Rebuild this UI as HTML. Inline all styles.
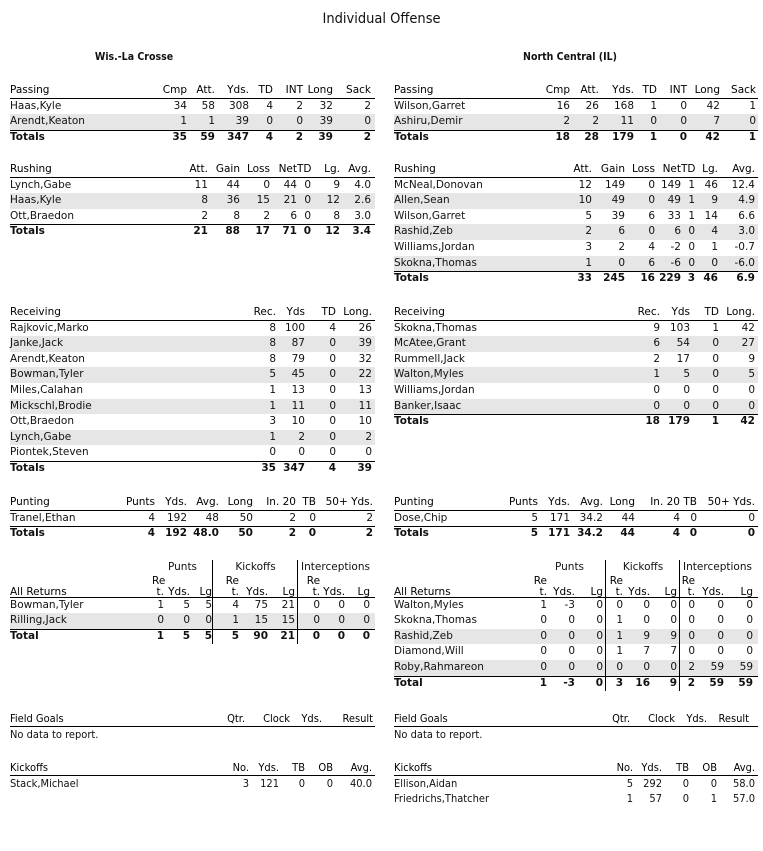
<!DOCTYPE html>
<html><head><meta charset="utf-8"><style>
body{margin:0;width:763px;height:851px;background:#fff;position:relative;overflow:hidden;color:#111;font-family:"DejaVu Sans",Verdana,sans-serif;font-size:10.5px}
.ti{position:absolute;top:11px;left:0;width:763px;text-align:center;font:14.5px "DejaVu Sans Condensed","DejaVu Sans",sans-serif}
.tm{position:absolute;top:51px;font:bold 10.5px "DejaVu Sans Condensed","DejaVu Sans",sans-serif;width:300px;text-align:center}
table{position:absolute;border-collapse:collapse;table-layout:fixed;font-size:10.5px}
td{padding:0;height:15.6px;line-height:15.6px;text-align:right;white-space:nowrap;overflow:visible;background-repeat:no-repeat}
td:first-child{text-align:left}
.h td{color:#000;background-image:linear-gradient(#000,#000);background-position:left bottom;background-size:100% 1px}
.tot td{font-weight:bold;background-image:linear-gradient(#000,#000);background-position:left top;background-size:100% 1px}
.g td{background-color:#e6e6e6}
td.d{background-image:linear-gradient(#000,#000);background-position:right top;background-size:1px 100%}
.h td.d{background-image:linear-gradient(#000,#000),linear-gradient(#000,#000);background-position:left bottom,right top;background-size:100% 1px,1px 100%}
.tot td.d{background-image:linear-gradient(#000,#000),linear-gradient(#000,#000);background-position:left top,right top;background-size:100% 1px,1px 100%}
.rt td{vertical-align:bottom;line-height:11px;height:22px}
table.c{font-family:"DejaVu Sans Condensed","DejaVu Sans",sans-serif;font-size:11px}
td.L{padding-right:1px}
td.R{padding-right:3px}
</style></head><body>
<div class="ti">Individual Offense</div>
<div class="tm" style="left:-16px">Wis.-La Crosse</div>
<div class="tm" style="left:420px">North Central (IL)</div>

<table style="left:10px;top:83px;width:365px"><colgroup><col style="width:147px"><col style="width:30px"><col style="width:28px"><col style="width:34px"><col style="width:24px"><col style="width:30px"><col style="width:30px"><col style="width:38px"><col style="width:4px"></colgroup>
<tr class="h"><td>Passing</td><td>Cmp</td><td>Att.</td><td>Yds.</td><td>TD</td><td>INT</td><td>Long</td><td>Sack</td><td></td></tr>
<tr><td>Haas,Kyle</td><td>34</td><td>58</td><td>308</td><td>4</td><td>2</td><td>32</td><td>2</td><td></td></tr>
<tr class="g"><td>Arendt,Keaton</td><td>1</td><td>1</td><td>39</td><td>0</td><td>0</td><td>39</td><td>0</td><td></td></tr>
<tr class="tot"><td>Totals</td><td>35</td><td>59</td><td>347</td><td>4</td><td>2</td><td>39</td><td>2</td><td></td></tr>
</table>

<table style="left:394px;top:83px;width:364px"><colgroup><col style="width:146px"><col style="width:30px"><col style="width:29px"><col style="width:35px"><col style="width:23px"><col style="width:30px"><col style="width:33px"><col style="width:36px"><col style="width:2px"></colgroup>
<tr class="h"><td>Passing</td><td>Cmp</td><td>Att.</td><td>Yds.</td><td>TD</td><td>INT</td><td>Long</td><td>Sack</td><td></td></tr>
<tr><td>Wilson,Garret</td><td>16</td><td>26</td><td>168</td><td>1</td><td>0</td><td>42</td><td>1</td><td></td></tr>
<tr class="g"><td>Ashiru,Demir</td><td>2</td><td>2</td><td>11</td><td>0</td><td>0</td><td>7</td><td>0</td><td></td></tr>
<tr class="tot"><td>Totals</td><td>18</td><td>28</td><td>179</td><td>1</td><td>0</td><td>42</td><td>1</td><td></td></tr>
</table>

<table style="left:10px;top:162px;width:365px"><colgroup><col style="width:173px"><col style="width:25px"><col style="width:32px"><col style="width:30px"><col style="width:27px"><col style="width:14px"><col style="width:29px"><col style="width:31px"><col style="width:4px"></colgroup>
<tr class="h"><td>Rushing</td><td>Att.</td><td>Gain</td><td>Loss</td><td>Net</td><td>TD</td><td>Lg.</td><td>Avg.</td><td></td></tr>
<tr><td>Lynch,Gabe</td><td>11</td><td>44</td><td>0</td><td>44</td><td>0</td><td>9</td><td>4.0</td><td></td></tr>
<tr class="g"><td>Haas,Kyle</td><td>8</td><td>36</td><td>15</td><td>21</td><td>0</td><td>12</td><td>2.6</td><td></td></tr>
<tr><td>Ott,Braedon</td><td>2</td><td>8</td><td>2</td><td>6</td><td>0</td><td>8</td><td>3.0</td><td></td></tr>
<tr class="tot"><td>Totals</td><td>21</td><td>88</td><td>17</td><td>71</td><td>0</td><td>12</td><td>3.4</td><td></td></tr>
</table>

<table style="left:394px;top:162px;width:364px"><colgroup><col style="width:173px"><col style="width:25px"><col style="width:33px"><col style="width:30px"><col style="width:26px"><col style="width:14px"><col style="width:23px"><col style="width:37px"><col style="width:3px"></colgroup>
<tr class="h"><td>Rushing</td><td>Att.</td><td>Gain</td><td>Loss</td><td>Net</td><td>TD</td><td>Lg.</td><td>Avg.</td><td></td></tr>
<tr><td>McNeal,Donovan</td><td>12</td><td>149</td><td>0</td><td>149</td><td>1</td><td>46</td><td>12.4</td><td></td></tr>
<tr class="g"><td>Allen,Sean</td><td>10</td><td>49</td><td>0</td><td>49</td><td>1</td><td>9</td><td>4.9</td><td></td></tr>
<tr><td>Wilson,Garret</td><td>5</td><td>39</td><td>6</td><td>33</td><td>1</td><td>14</td><td>6.6</td><td></td></tr>
<tr class="g"><td>Rashid,Zeb</td><td>2</td><td>6</td><td>0</td><td>6</td><td>0</td><td>4</td><td>3.0</td><td></td></tr>
<tr><td>Williams,Jordan</td><td>3</td><td>2</td><td>4</td><td>-2</td><td>0</td><td>1</td><td>-0.7</td><td></td></tr>
<tr class="g"><td>Skokna,Thomas</td><td>1</td><td>0</td><td>6</td><td>-6</td><td>0</td><td>0</td><td>-6.0</td><td></td></tr>
<tr class="tot"><td>Totals</td><td>33</td><td>245</td><td>16</td><td>229</td><td>3</td><td>46</td><td>6.9</td><td></td></tr>
</table>

<table style="left:10px;top:305px;width:365px"><colgroup><col style="width:236px"><col style="width:30px"><col style="width:29px"><col style="width:31px"><col style="width:36px"><col style="width:3px"></colgroup>
<tr class="h"><td>Receiving</td><td>Rec.</td><td>Yds</td><td>TD</td><td>Long.</td><td></td></tr>
<tr><td>Rajkovic,Marko</td><td>8</td><td>100</td><td>4</td><td>26</td><td></td></tr>
<tr class="g"><td>Janke,Jack</td><td>8</td><td>87</td><td>0</td><td>39</td><td></td></tr>
<tr><td>Arendt,Keaton</td><td>8</td><td>79</td><td>0</td><td>32</td><td></td></tr>
<tr class="g"><td>Bowman,Tyler</td><td>5</td><td>45</td><td>0</td><td>22</td><td></td></tr>
<tr><td>Miles,Calahan</td><td>1</td><td>13</td><td>0</td><td>13</td><td></td></tr>
<tr class="g"><td>Mickschl,Brodie</td><td>1</td><td>11</td><td>0</td><td>11</td><td></td></tr>
<tr><td>Ott,Braedon</td><td>3</td><td>10</td><td>0</td><td>10</td><td></td></tr>
<tr class="g"><td>Lynch,Gabe</td><td>1</td><td>2</td><td>0</td><td>2</td><td></td></tr>
<tr><td>Piontek,Steven</td><td>0</td><td>0</td><td>0</td><td>0</td><td></td></tr>
<tr class="tot"><td>Totals</td><td>35</td><td>347</td><td>4</td><td>39</td><td></td></tr>
</table>

<table style="left:394px;top:305px;width:364px"><colgroup><col style="width:236px"><col style="width:30px"><col style="width:30px"><col style="width:29px"><col style="width:36px"><col style="width:3px"></colgroup>
<tr class="h"><td>Receiving</td><td>Rec.</td><td>Yds</td><td>TD</td><td>Long.</td><td></td></tr>
<tr><td>Skokna,Thomas</td><td>9</td><td>103</td><td>1</td><td>42</td><td></td></tr>
<tr class="g"><td>McAtee,Grant</td><td>6</td><td>54</td><td>0</td><td>27</td><td></td></tr>
<tr><td>Rummell,Jack</td><td>2</td><td>17</td><td>0</td><td>9</td><td></td></tr>
<tr class="g"><td>Walton,Myles</td><td>1</td><td>5</td><td>0</td><td>5</td><td></td></tr>
<tr><td>Williams,Jordan</td><td>0</td><td>0</td><td>0</td><td>0</td><td></td></tr>
<tr class="g"><td>Banker,Isaac</td><td>0</td><td>0</td><td>0</td><td>0</td><td></td></tr>
<tr class="tot"><td>Totals</td><td>18</td><td>179</td><td>1</td><td>42</td><td></td></tr>
</table>

<table style="left:10px;top:495px;width:365px"><colgroup><col style="width:110px"><col style="width:35px"><col style="width:32px"><col style="width:32px"><col style="width:34px"><col style="width:43px"><col style="width:20px"><col style="width:57px"><col style="width:2px"></colgroup>
<tr class="h"><td>Punting</td><td>Punts</td><td>Yds.</td><td>Avg.</td><td>Long</td><td>In. 20</td><td>TB</td><td>50+ Yds.</td><td></td></tr>
<tr><td>Tranel,Ethan</td><td>4</td><td>192</td><td>48</td><td>50</td><td>2</td><td>0</td><td>2</td><td></td></tr>
<tr class="tot"><td>Totals</td><td>4</td><td>192</td><td>48.0</td><td>50</td><td>2</td><td>0</td><td>2</td><td></td></tr>
</table>

<table style="left:394px;top:495px;width:364px"><colgroup><col style="width:109px"><col style="width:35px"><col style="width:32px"><col style="width:33px"><col style="width:32px"><col style="width:45px"><col style="width:17px"><col style="width:58px"><col style="width:3px"></colgroup>
<tr class="h"><td>Punting</td><td>Punts</td><td>Yds.</td><td>Avg.</td><td>Long</td><td>In. 20</td><td>TB</td><td>50+ Yds.</td><td></td></tr>
<tr><td>Dose,Chip</td><td>5</td><td>171</td><td>34.2</td><td>44</td><td>4</td><td>0</td><td>0</td><td></td></tr>
<tr class="tot"><td>Totals</td><td>5</td><td>171</td><td>34.2</td><td>44</td><td>4</td><td>0</td><td>0</td><td></td></tr>
</table>

<table style="left:10px;top:560px;width:365px"><colgroup><col style="width:142px"><col style="width:12px"><col style="width:26px"><col style="width:23px"><col style="width:26px"><col style="width:29px"><col style="width:30px"><col style="width:22px"><col style="width:25px"><col style="width:25px"><col style="width:5px"></colgroup>
<tr><td></td><td colspan="3" class="d" style="text-align:center">Punts</td><td colspan="3" class="d" style="text-align:center">Kickoffs</td><td colspan="4" style="text-align:left;padding-left:3px">Interceptions</td></tr>
<tr class="h rt"><td>All Returns</td><td>Re<br>t.</td><td>Yds.</td><td class="d L">Lg</td><td>Re<br>t.</td><td>Yds.</td><td class="d R">Lg</td><td>Re<br>t.</td><td>Yds.</td><td>Lg</td><td></td></tr>
<tr><td>Bowman,Tyler</td><td>1</td><td>5</td><td class="d L">5</td><td>4</td><td>75</td><td class="d R">21</td><td>0</td><td>0</td><td>0</td><td></td></tr>
<tr class="g"><td>Rilling,Jack</td><td>0</td><td>0</td><td class="d L">0</td><td>1</td><td>15</td><td class="d R">15</td><td>0</td><td>0</td><td>0</td><td></td></tr>
<tr class="tot"><td>Total</td><td>1</td><td>5</td><td class="d L">5</td><td>5</td><td>90</td><td class="d R">21</td><td>0</td><td>0</td><td>0</td><td></td></tr>
</table>

<table style="left:394px;top:560px;width:364px"><colgroup><col style="width:139px"><col style="width:14px"><col style="width:28px"><col style="width:31px"><col style="width:17px"><col style="width:27px"><col style="width:30px"><col style="width:15px"><col style="width:29px"><col style="width:29px"><col style="width:5px"></colgroup>
<tr><td></td><td colspan="3" class="d" style="text-align:center">Punts</td><td colspan="3" class="d" style="text-align:center">Kickoffs</td><td colspan="4" style="text-align:left;padding-left:3px">Interceptions</td></tr>
<tr class="h rt"><td>All Returns</td><td>Re<br>t.</td><td>Yds.</td><td class="d R">Lg</td><td>Re<br>t.</td><td>Yds.</td><td class="d R">Lg</td><td>Re<br>t.</td><td>Yds.</td><td>Lg</td><td></td></tr>
<tr><td>Walton,Myles</td><td>1</td><td>-3</td><td class="d R">0</td><td>0</td><td>0</td><td class="d R">0</td><td>0</td><td>0</td><td>0</td><td></td></tr>
<tr><td>Skokna,Thomas</td><td>0</td><td>0</td><td class="d R">0</td><td>1</td><td>0</td><td class="d R">0</td><td>0</td><td>0</td><td>0</td><td></td></tr>
<tr class="g"><td>Rashid,Zeb</td><td>0</td><td>0</td><td class="d R">0</td><td>1</td><td>9</td><td class="d R">9</td><td>0</td><td>0</td><td>0</td><td></td></tr>
<tr><td>Diamond,Will</td><td>0</td><td>0</td><td class="d R">0</td><td>1</td><td>7</td><td class="d R">7</td><td>0</td><td>0</td><td>0</td><td></td></tr>
<tr class="g"><td>Roby,Rahmareon</td><td>0</td><td>0</td><td class="d R">0</td><td>0</td><td>0</td><td class="d R">0</td><td>2</td><td>59</td><td>59</td><td></td></tr>
<tr class="tot"><td>Total</td><td>1</td><td>-3</td><td class="d R">0</td><td>3</td><td>16</td><td class="d R">9</td><td>2</td><td>59</td><td>59</td><td></td></tr>
</table>

<table class="c" style="left:10px;top:711px;width:365px"><colgroup><col style="width:215px"><col style="width:20px"><col style="width:45px"><col style="width:32px"><col style="width:51px"><col style="width:2px"></colgroup>
<tr class="h"><td>Field Goals</td><td>Qtr.</td><td>Clock</td><td>Yds.</td><td>Result</td><td></td></tr>
<tr><td colspan="6">No data to report.</td></tr>
</table>
<table class="c" style="left:394px;top:711px;width:364px"><colgroup><col style="width:216px"><col style="width:20px"><col style="width:45px"><col style="width:32px"><col style="width:42px"><col style="width:9px"></colgroup>
<tr class="h"><td>Field Goals</td><td>Qtr.</td><td>Clock</td><td>Yds.</td><td>Result</td><td></td></tr>
<tr><td colspan="6">No data to report.</td></tr>
</table>

<table class="c" style="left:10px;top:760px;width:365px"><colgroup><col style="width:219px"><col style="width:20px"><col style="width:30px"><col style="width:26px"><col style="width:28px"><col style="width:39px"><col style="width:3px"></colgroup>
<tr class="h"><td>Kickoffs</td><td>No.</td><td>Yds.</td><td>TB</td><td>OB</td><td>Avg.</td><td></td></tr>
<tr><td>Stack,Michael</td><td>3</td><td>121</td><td>0</td><td>0</td><td>40.0</td><td></td></tr>
</table>
<table class="c" style="left:394px;top:760px;width:364px"><colgroup><col style="width:219px"><col style="width:20px"><col style="width:29px"><col style="width:27px"><col style="width:28px"><col style="width:38px"><col style="width:3px"></colgroup>
<tr class="h"><td>Kickoffs</td><td>No.</td><td>Yds.</td><td>TB</td><td>OB</td><td>Avg.</td><td></td></tr>
<tr><td>Ellison,Aidan</td><td>5</td><td>292</td><td>0</td><td>0</td><td>58.0</td><td></td></tr>
<tr><td>Friedrichs,Thatcher</td><td>1</td><td>57</td><td>0</td><td>1</td><td>57.0</td><td></td></tr>
</table>
</body></html>
